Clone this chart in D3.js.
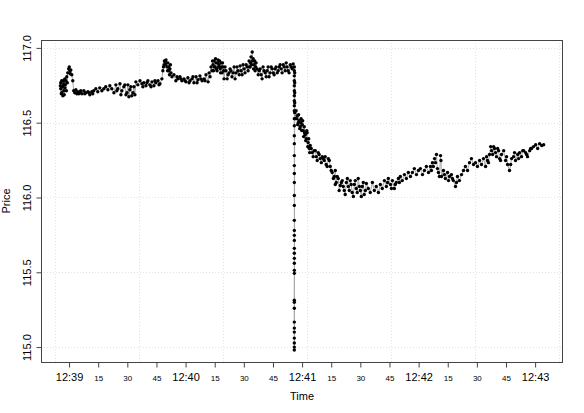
<!DOCTYPE html>
<html><head><meta charset="utf-8">
<script src="https://cdn.jsdelivr.net/npm/d3@7"></script>
<style>
body{margin:0;background:#fff}
svg{display:block;font-family:"Liberation Sans",Arial,Helvetica,sans-serif}
</style>
</head><body>
<svg id="chart" width="584" height="413"></svg>
<script>
// Session start: 12:38:00; times are seconds after that
const sessionStart = [2010, 0, 1, 12, 38, 0];

const tickSeconds = [
  55.7,55.7,56.2,56.2,56.8,56.8,57.3,57.3,57.8,57.8,
  58.3,58.8,59.3,59.8,60.4,60.9,61.4,61.9,62.4,62.9,
  63.5,64.0,64.5,65.5,66.6,67.6,68.6,69.7,70.7,71.7,
  72.7,73.8,74.8,75.8,76.9,77.9,78.9,80.0,81.0,82.0,
  83.1,84.1,85.1,86.2,87.2,88.2,89.3,90.3,91.3,92.3,
  93.4,94.4,95.4,96.5,97.5,98.5,99.6,100.6,101.6,102.7,
  103.7,104.7,105.8,106.8,107.8,108.3,108.9,109.4,109.9,110.4,
  110.9,111.4,111.9,112.5,113.0,114.0,115.0,116.1,117.1,118.1,
  119.2,120.2,121.2,122.3,123.3,124.3,125.4,126.4,127.4,128.5,
  129.5,130.5,131.6,132.6,133.6,134.1,134.7,135.2,135.7,136.2,
  136.7,137.2,137.8,138.3,138.8,139.3,139.8,140.8,141.9,142.9,
  143.9,145.0,146.0,147.0,148.1,149.1,150.1,151.2,152.2,152.7,
  153.2,153.7,154.3,154.8,155.3,155.8,156.3,157.4,158.4,159.4,
  160.4,161.5,162.5,163.5,164.6,165.6,166.6,167.7,168.7,169.7,
  170.8,171.8,172.8,173.9,174.9,175.4,
  176.0,176.0,176.0,176.0,176.0,176.0,176.0,176.0,176.0,176.0,
  176.0,176.0,176.0,176.0,176.0,176.0,176.0,176.0,176.0,176.0,
  176.0,176.0,176.0,176.0,176.0,176.0,176.0,176.0,176.0,176.0,
  176.0,176.0,176.0,176.0,176.0,176.0,176.0,176.0,176.0,176.0,
  176.4,176.9,177.5,178.0,178.5,179.0,179.5,180.1,180.6,181.1,
  181.6,182.1,182.6,183.1,183.7,184.2,185.2,186.2,187.3,188.3,
  189.3,190.4,191.4,192.4,193.5,194.5,195.5,196.6,197.1,197.6,
  198.6,199.7,200.7,201.7,202.8,203.8,204.8,205.8,206.9,207.9,
  208.9,210.0,211.0,212.0,213.1,214.1,215.1,216.2,217.2,218.2,
  219.3,220.3,221.3,222.4,223.4,224.4,225.5,226.5,227.5,228.5,
  229.6,230.6,231.6,232.7,233.7,234.7,235.8,236.8,237.8,238.9,
  239.9,240.9,242.0,243.0,244.0,245.1,246.1,247.1,248.2,249.2,
  250.2,251.3,251.8,252.8,253.8,254.9,255.9,256.9,257.9,259.0,
  260.0,261.0,262.1,263.1,264.1,265.2,266.2,267.2,268.3,269.3,
  270.3,271.4,272.4,273.4,274.5,275.5,276.5,277.6,278.6,279.6,
  280.7,281.7,282.7,283.8,284.8,285.8,286.8,287.9,288.9,289.9,
  291.0,292.0,293.0,294.1,295.1,296.1,297.2,298.2,299.2,300.3,
  301.3,302.3,303.4,304.4
];

const tickPrices = [
  116.767,116.727,116.78,116.7,116.747,116.68,116.76,116.713,116.793,116.733,
  116.78,116.807,116.833,116.86,116.847,116.853,116.82,116.78,116.713,116.7,
  116.72,116.693,116.707,116.7,116.693,116.713,116.7,116.707,116.687,116.707,
  116.713,116.727,116.707,116.733,116.713,116.727,116.74,116.72,116.747,116.727,
  116.7,116.753,116.727,116.76,116.713,116.74,116.687,116.753,116.72,116.68,
  116.74,116.773,116.753,116.78,116.76,116.767,116.747,116.78,116.753,116.773,
  116.747,116.767,116.78,116.76,116.793,116.847,116.887,116.907,116.92,116.873,
  116.9,116.847,116.86,116.833,116.807,116.82,116.78,116.793,116.807,116.78,
  116.793,116.773,116.8,116.78,116.793,116.767,116.807,116.787,116.813,116.78,
  116.793,116.82,116.773,116.807,116.847,116.887,116.913,116.873,116.9,116.847,
  116.92,116.887,116.86,116.9,116.833,116.873,116.793,116.847,116.82,116.86,
  116.807,116.873,116.833,116.847,116.88,116.82,116.86,116.887,116.847,116.913,
  116.873,116.94,116.973,116.927,116.887,116.847,116.9,116.82,116.86,116.793,
  116.847,116.807,116.873,116.833,116.86,116.82,116.873,116.847,116.887,116.833,
  116.873,116.9,116.847,116.887,116.86,116.893,
  116.873,116.847,116.813,116.78,116.747,116.713,116.68,116.647,116.613,116.58,
  116.527,116.48,116.413,116.36,116.28,116.213,116.16,116.1,116.013,115.947,
  115.847,115.78,115.747,115.713,115.66,115.627,115.593,115.56,115.513,115.493,
  115.313,115.3,115.26,115.167,115.127,115.1,115.06,115.027,115.0,114.98,
  116.527,116.58,116.547,116.5,116.513,116.473,116.527,116.487,116.447,116.473,
  116.42,116.393,116.433,116.367,116.327,116.347,116.3,116.313,116.273,116.3,
  116.26,116.273,116.247,116.22,116.26,116.207,116.167,116.14,116.18,116.1,
  116.127,116.08,116.113,116.047,116.1,116.073,116.113,116.033,116.087,116.06,
  116.127,116.047,116.073,116.02,116.093,116.06,116.033,116.1,116.047,116.073,
  116.033,116.087,116.06,116.113,116.073,116.127,116.087,116.113,116.06,116.1,
  116.127,116.14,116.113,116.153,116.127,116.167,116.14,116.167,116.193,116.153,
  116.18,116.193,116.153,116.18,116.207,116.167,116.207,116.233,116.26,116.287,
  116.167,116.28,116.14,116.18,116.127,116.167,116.14,116.153,116.113,116.073,
  116.14,116.113,116.153,116.18,116.207,116.18,116.233,116.26,116.22,116.233,
  116.207,116.247,116.22,116.26,116.207,116.247,116.287,116.313,116.34,116.3,
  116.327,116.26,116.287,116.313,116.247,116.22,116.18,116.26,116.273,116.247,
  116.287,116.3,116.273,116.313,116.3,116.273,116.313,116.327,116.34,116.353,
  116.327,116.36,116.347,116.353
];

// Additional ticks read from the dense clusters
const extraSeconds = [
  55.5,56.0,56.5,57.0,57.5,58.0,58.6,59.1,60.6,60.1,
  65.0,66.0,68.1,70.2,72.2,
  84.6,86.7,88.7,89.8,90.8,91.8,92.9,93.9,
  98.0,100.1,102.2,104.2,106.3,
  108.6,109.1,109.6,110.1,110.7,111.2,111.7,112.2,
  115.6,117.6,119.7,121.8,123.8,125.9,127.9,130.0,132.1,
  133.1,133.9,134.4,134.9,135.4,135.9,136.5,137.0,137.5,138.0,138.5,139.0,139.6,140.3,
  141.4,142.4,143.4,144.5,145.5,146.5,147.6,148.6,149.6,150.6,151.7,
  153.0,153.5,154.0,154.5,155.0,155.6,156.1,156.8,
  157.9,158.9,159.9,161.0,162.0,163.0,164.1,165.1,166.1,167.2,168.2,169.2,170.3,171.3,172.3,173.3,174.4,
  176.2,176.2,176.2,176.2,176.2,
  177.2,177.7,178.2,178.8,179.3,179.8,180.3,180.8,181.3,181.9,182.4,182.9,183.4,183.9,
  184.7,185.7,186.8,187.8,188.8,189.9,190.9,191.9,192.9,194.0,
  195.0,196.1,197.1,198.1,199.1,200.2,201.2,202.2,203.3,204.3,205.3,206.4,207.4,208.4,209.5,210.5,211.5,212.6,
  224.0,226.0,228.0,230.1,
  246.6,247.6,248.7,249.7,250.7,251.5,
  253.3,255.4,257.4,259.5,
  275.0,276.0,277.1,278.1,279.1,280.1,281.2,282.2,
  285.3,287.4,289.4,291.5,293.6,295.6,297.7
];
const extraPrices = [
  116.747,116.693,116.74,116.78,116.687,116.753,116.713,116.767,116.827,116.873,
  116.693,116.713,116.693,116.7,116.693,
  116.713,116.687,116.753,116.7,116.673,116.74,116.7,116.687,
  116.74,116.767,116.74,116.78,116.753,
  116.873,116.913,116.887,116.9,116.847,116.873,116.82,116.887,
  116.807,116.793,116.78,116.767,116.807,116.767,116.793,116.78,116.833,
  116.873,116.913,116.847,116.873,116.927,116.86,116.9,116.873,116.913,116.833,116.873,116.9,116.847,116.873,
  116.793,116.833,116.847,116.833,116.793,116.873,116.82,116.847,116.887,116.833,116.873,
  116.873,116.9,116.887,116.913,116.86,116.913,116.873,116.86,
  116.847,116.82,116.873,116.833,116.847,116.807,116.873,116.833,116.86,116.833,116.873,116.86,116.887,116.847,116.873,116.833,116.873,
  116.833,116.767,116.7,116.633,116.567,
  116.527,116.487,116.553,116.46,116.5,116.447,116.513,116.407,116.433,116.38,116.447,116.34,116.393,116.3,
  116.327,116.273,116.313,116.247,116.287,116.233,116.26,116.273,116.207,116.247,
  116.18,116.127,116.087,116.14,116.047,116.1,116.073,116.02,116.127,116.047,116.087,116.007,116.113,116.033,116.073,116.007,116.1,116.047,
  116.1,116.06,116.087,116.1,
  116.18,116.207,116.233,116.193,116.14,116.247,
  116.153,116.113,116.127,116.1,
  116.273,116.233,116.34,116.287,116.327,116.273,116.313,116.247,
  116.273,116.22,116.3,116.26,116.313,116.287,116.327
];

const yTickValues = [115.0, 115.5, 116.0, 116.5, 117.0];
const xTickSeconds = [60, 75, 90, 105, 120, 135, 150, 165, 180, 195, 210, 225, 240, 255, 270, 285, 300];
const gridSeconds = [52.6, 95.9, 139.2, 182.5, 225.8, 269.1, 312.4];
const xLabel = "Time";
const yLabel = "Price";

const base = new Date(...sessionStart);
const toDate = s => new Date(base.getTime() + s * 1000);
const rows = [];
for (let i = 0; i < Math.min(tickSeconds.length, tickPrices.length); i++) rows.push({ s: tickSeconds[i], p: tickPrices[i] });
for (let i = 0; i < Math.min(extraSeconds.length, extraPrices.length); i++) rows.push({ s: extraSeconds[i], p: extraPrices[i] });
rows.sort((a, b) => a.s - b.s);
const data = rows.map(r => ({ t: toDate(r.s), p: r.p }));

const L = 41, R = 563, T = 40, B = 362;
const svg = d3.select("#chart");

function pad(ext) { const d = (ext[1] - ext[0]) * 0.04; return [ext[0] - d, ext[1] + d]; }
const tExt = pad(d3.extent(rows, r => r.s));
const x = d3.scaleTime().domain(tExt.map(toDate)).range([L, R]);
const y = d3.scaleLinear().domain(pad(d3.extent(rows, r => r.p))).range([B, T]);

// grid
const grid = svg.append("g").attr("stroke", "#e2e2e2").attr("stroke-dasharray", "1,2").attr("stroke-width", 1);
grid.selectAll("line.h").data(yTickValues).join("line")
  .attr("x1", L).attr("x2", R)
  .attr("y1", d => Math.round(y(d)) + 0.5).attr("y2", d => Math.round(y(d)) + 0.5);
grid.selectAll("line.v").data(gridSeconds).join("line")
  .attr("y1", T).attr("y2", B)
  .attr("x1", d => Math.round(x(toDate(d))) + 0.5).attr("x2", d => Math.round(x(toDate(d))) + 0.5);

// line + points
svg.append("path").datum(data)
  .attr("fill", "none").attr("stroke", "#a8a8a8").attr("stroke-width", 1)
  .attr("d", d3.line().x(d => x(d.t)).y(d => y(d.p)));
svg.append("g").selectAll("circle").data(data).join("circle")
  .attr("cx", d => x(d.t)).attr("cy", d => y(d.p)).attr("r", 1.7).attr("fill", "#000");

// box
svg.append("rect").attr("x", L + 0.5).attr("y", T + 0.5).attr("width", R - L - 1).attr("height", B - T)
  .attr("fill", "none").attr("stroke", "#444");

// y axis
const yAxis = svg.append("g").attr("transform", `translate(${L + 0.5},0)`)
  .call(d3.axisLeft(y).tickValues(yTickValues).tickFormat(d3.format(".1f")).tickSize(5).tickSizeOuter(0));
yAxis.select(".domain").remove();
yAxis.selectAll(".tick line").attr("stroke", "#444");
yAxis.selectAll(".tick text").attr("x", null).attr("dy", null)
  .attr("transform", "translate(-11,0) rotate(-90)").attr("text-anchor", "middle")
  .attr("font-size", 11).attr("font-family", null).attr("fill", "#000");

// x axis
const xAxis = svg.append("g").attr("transform", `translate(0,${B + 0.5})`)
  .call(d3.axisBottom(x).tickValues(xTickSeconds.map(toDate)).tickSize(5).tickSizeOuter(0)
    .tickFormat(d => d.getSeconds() === 0 ? d3.timeFormat("%H:%M")(d) : d3.timeFormat("%S")(d)));
xAxis.select(".domain").remove();
xAxis.selectAll(".tick line").attr("stroke", "#444");
xAxis.selectAll(".tick text").attr("dy", null).attr("y", 18.5)
  .attr("font-family", null).attr("fill", "#000")
  .attr("font-size", d => d.getSeconds() === 0 ? 11 : 8);

// axis titles
svg.append("text").attr("x", (L + R) / 2).attr("y", 399.5).attr("text-anchor", "middle")
  .attr("font-size", 11).text(xLabel);
svg.append("text").attr("transform", `translate(10,${(T + B) / 2}) rotate(-90)`)
  .attr("text-anchor", "middle").attr("font-size", 11).text(yLabel);
</script>
</body></html>
